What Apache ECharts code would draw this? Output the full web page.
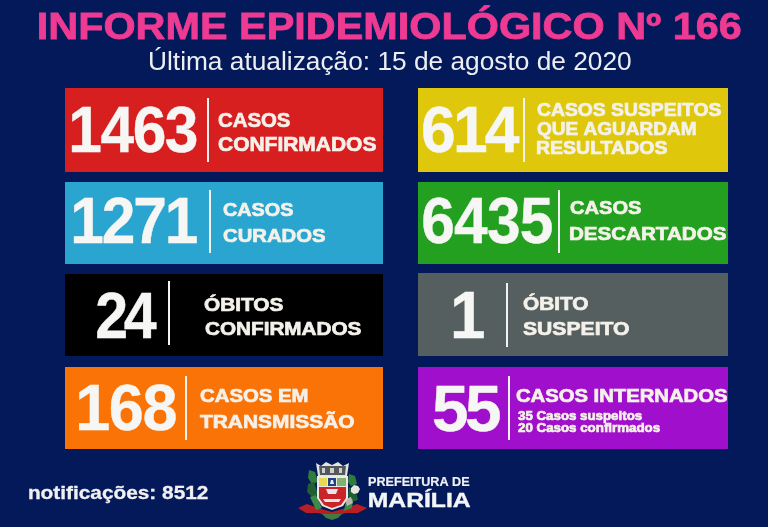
<!DOCTYPE html>
<html><head><meta charset="utf-8">
<style>html,body{margin:0;padding:0;background:#03195a}#c{width:768px;height:527px;filter:blur(0.6px)}</style>
<script src="https://cdn.jsdelivr.net/npm/echarts@6/dist/echarts.min.js"></script>
</head><body><div id="c"></div>
<script>
// ---- content ----
const titleText = 'INFORME EPIDEMIOLÓGICO Nº 166';
const subtitleText = 'Última atualização: 15 de agosto de 2020';
const cardValues = [1463, 614, 1271, 6435, 24, 1, 168, 55];
const cardLabels = [
  ['CASOS', 'CONFIRMADOS'],
  ['CASOS SUSPEITOS', 'QUE AGUARDAM', 'RESULTADOS'],
  ['CASOS', 'CURADOS'],
  ['CASOS', 'DESCARTADOS'],
  ['ÓBITOS', 'CONFIRMADOS'],
  ['ÓBITO', 'SUSPEITO'],
  ['CASOS EM', 'TRANSMISSÃO'],
  ['CASOS INTERNADOS', '35 Casos suspeitos', '20 Casos confirmados']
];
const notificationsText = 'notificações: 8512';
const cityLines = ['PREFEITURA DE', 'MARÍLIA'];

// ---- styling and layout ----
const cardColors = ['#d81f20', '#dfc80b', '#29a5cf', '#24a020', '#000000', '#555f60', '#f97307', '#a00fcb'];
const cardBoxes = [[65,88,383,172],[418,88,728,172],[65,182,383,264],[418,182,728,264],
                   [65,274,383,356],[418,273,728,356],[65,367,383,449],[418,367,728,449]];
const numberBoxes = [[72,197,108,154],[423,520,108,154],[74,197,199,245],[423,552,199,245],
                     [97,157,294,340],[458,480,293,340],[79,176,386,432],[434,500,387,433]];
const numberSquash = [0.92, 0.95, 0.92, 0.92, 0.9, 0.95, 0.96, 1.0];
const dividers = [[208,98,162],[524,98,162],[210,190,253],[559,190,253],
                  [169,281,345],[507,283,347],[186,376,440],[509,376,440]];
const labelBoxes = [
  [[218,290,114,128],[218,376,138,152]],
  [[537,721,104,117],[537,696,123,136],[537,667,142,155]],
  [[223,293,204,217],[223,325,230,243]],
  [[570,641,202,215],[570,726,228,241]],
  [[204,283,299,312],[205,361,323,336]],
  [[523,588,298,311],[523,629,323,336]],
  [[200,308,390,403],[200,354,416,429]],
  [[516,727,390,403],[518,642,411,420],[518,660,423,432]]
];
const FONT = '"Liberation Sans", Arial, sans-serif';
const meas = document.createElement('canvas').getContext('2d');
const texts = [];
function fontFor(box, weight) {
  const fs = (box[3] - box[2]) / 0.70;
  return {fs, font: weight + ' ' + fs.toFixed(2) + 'px ' + FONT};
}
function addText(text, box, fill, weight, extra) {
  const {fs, font} = fontFor(box, weight);
  meas.font = font;
  const m = meas.measureText(text);
  const ink = m.actualBoundingBoxRight + m.actualBoundingBoxLeft;
  const sx = (box[1] - box[0]) / ink;
  texts.push({text, x: box[0] + m.actualBoundingBoxLeft * sx, y: (box[2] + box[3]) / 2 + 0.045 * fs, sx, font, fill, extra: extra || 0});
}
// big numbers: digits set tightly, placed one by one so they touch
function addNumber(value, box, sx, fill, extra) {
  const {fs, font} = fontFor(box, 'bold');
  meas.font = font;
  const s = String(value).split('');
  const y = (box[2] + box[3]) / 2 + 0.045 * fs;
  const first = meas.measureText(s[0]), last = meas.measureText(s[s.length - 1]);
  const x0 = box[0] + first.actualBoundingBoxLeft * sx;
  const endX = box[1] - last.actualBoundingBoxRight * sx;
  if (s.length === 1) {
    const c = (box[0] + box[1]) / 2 - (first.actualBoundingBoxRight - first.actualBoundingBoxLeft) / 2 * sx;
    texts.push({text: s[0], x: c, y, sx, font, fill, extra});
    return;
  }
  const pitch = (endX - x0) / (s.length - 1);
  s.forEach((d, i) => texts.push({text: d, x: x0 + pitch * i, y, sx, font, fill, extra}));
}
addText(titleText, [39,741,14,40], '#ee3a92', 'bold', 0.8);
addText(subtitleText, [150,631,52,70.5], '#eceef2', 'normal');
cardValues.forEach((v, i) => {
  addNumber(v, numberBoxes[i], numberSquash[i], '#f6f6f4', 0.4);
  cardLabels[i].forEach((t, j) => addText(t, labelBoxes[i][j], '#f4f1ea', 'bold', 0.7));
});
addText(notificationsText, [29,208,487,500], '#f0f0f0', 'bold', 0.3);
addText(cityLines[0], [368,470,477,486], '#eef0f4', 'bold', 0.2);
addText(cityLines[1], [369,470,494,508], '#f4f5f7', 'bold', 0.4);

// coat of arms, drawn as filled outlines in page coordinates
const crestShapes = [
  // ribbon behind
  ['#b81f24', [[298,508],[307,504],[318,508],[332,512],[346,508],[357,504],[367,508],[358,513],[346,513],[332,517],[318,513],[306,513]]],
  ['#3f7a45', [[322,514],[342,514],[338,518],[332,520],[326,518]]],
  // laurel leaves left
  ['#2f7d3a', [[309,470],[315,472],[318,482],[312,484],[308,478]]],
  ['#1f5f33', [[308,484],[314,482],[318,494],[313,498],[307,492]]],
  ['#3b8c45', [[310,497],[316,495],[322,508],[316,510]]],
  // laurel leaves right
  ['#2f7d3a', [[349,474],[355,476],[357,484],[351,486],[348,482]]],
  ['#1f5f33', [[349,487],[356,492],[358,500],[352,502],[348,496]]],
  ['#3b8c45', [[346,500],[353,499],[352,508],[344,511]]],
  // white ball at the right
  ['#e8e6df', [[354,485],[358,486],[360,489],[358,493],[354,494],[351,492],[351,488]]],
  ['#b9b6ac', [[345,499],[351,497],[353,503],[347,506]]],
  // crown
  ['#e3e3df', [[316,463],[321,466],[326,462],[332,465],[338,462],[343,466],[349,463],[347,476],[318,476]]],
  ['#53595a', [[319,466],[346,466],[345,475],[320,475]]],
  ['#cfd0cc', [[322,468],[325,468],[325,473],[322,473]]],
  ['#cfd0cc', [[330,468],[334,468],[334,473],[330,473]]],
  ['#cfd0cc', [[339,468],[342,468],[342,473],[339,473]]],
  // shield outline
  ['#ece9e2', [[317,476],[348,476],[348,498],[343,506],[332,510],[322,506],[317,498]]],
  // shield upper band
  ['#e8d94f', [[319,478],[327,478],[327,486],[319,486]]],
  ['#20408c', [[328,478],[336,478],[336,486],[328,486]]],
  ['#e8eee0', [[331,480],[333,480],[334,484],[330,484]]],
  ['#7fb26f', [[337,478],[346,478],[346,486],[337,486]]],
  // shield lower
  ['#c8242a', [[319,487],[346,487],[346,498],[341,505],[332,508],[324,505],[319,498]]],
  ['#e4e6ea', [[326,489],[338,489],[336,494],[328,494]]],
  ['#e9e4dc', [[323,499],[341,499],[339,502],[325,502]]]
];

const chart = echarts.init(document.getElementById('c'), null, {renderer: 'canvas', width: 768, height: 527});
const base = {type: 'custom', silent: true, clip: false, animation: false, coordinateSystem: 'cartesian2d'};
chart.setOption({
  animation: false,
  backgroundColor: '#03195a',
  tooltip: {show: false},
  grid: {left: 0, top: 0, right: 0, bottom: 0},
  xAxis: {type: 'value', min: 0, max: 768, show: false},
  yAxis: {type: 'value', min: 0, max: 527, inverse: true, show: false},
  series: [
    Object.assign({}, base, {
      name: 'cards', data: cardBoxes.map((b, i) => [b[0], b[1], b[2], b[3], i]),
      renderItem(p, api) {
        const a = api.coord([api.value(0), api.value(1)]), b = api.coord([api.value(2), api.value(3)]);
        const i = api.value(4), d = dividers[i];
        const t = api.coord([d[0], d[1]]), e = api.coord([d[0], d[2]]);
        return {type: 'group', children: [
          {type: 'rect', shape: {x: a[0], y: a[1], width: b[0]-a[0], height: b[1]-a[1]}, style: {fill: cardColors[i]}},
          {type: 'rect', shape: {x: t[0]-1, y: t[1], width: 2, height: e[1]-t[1]}, style: {fill: '#f2f2f0'}}
        ]};
      }
    }),
    Object.assign({}, base, {
      name: 'crest', data: crestShapes.map((s, i) => [0, 0, i]),
      renderItem(p, api) {
        const s = crestShapes[api.value(2)];
        return {type: 'polygon', shape: {points: s[1].map(q => api.coord(q))}, style: {fill: s[0]}};
      }
    }),
    Object.assign({}, base, {
      name: 'texts', data: texts.map((t, i) => [t.x, t.y, i]),
      renderItem(p, api) {
        const t = texts[api.value(2)], c = api.coord([api.value(0), api.value(1)]);
        return {type: 'text', x: c[0], y: c[1], scaleX: t.sx, style: {
          text: t.text, x: 0, y: 0, font: t.font, fill: t.fill, align: 'left', verticalAlign: 'middle',
          stroke: t.extra ? t.fill : null, lineWidth: t.extra
        }};
      }
    })
  ]
});
</script></body></html>
